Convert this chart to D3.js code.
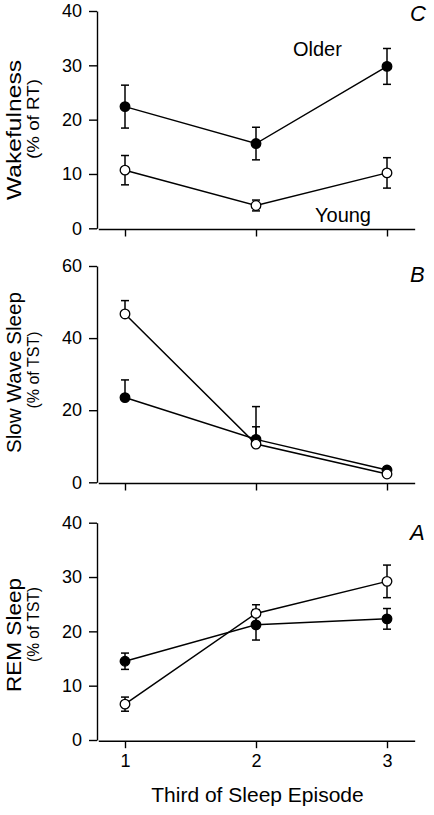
<!DOCTYPE html>
<html>
<head>
<meta charset="utf-8">
<script src="https://cdn.jsdelivr.net/npm/d3@7"></script>
<style>
html,body{margin:0;padding:0;background:#fff;}
svg{display:block;font-family:"Liberation Sans",Arial,Helvetica,sans-serif;}
</style>
</head>
<body>
<svg id="chart" width="434" height="815"></svg>
<script>
// ---- Data ----
const thirds = [1, 2, 3];
const xTickLabels = ["1", "2", "3"];

// Wakefulness (% of RT)
const wakeOlder = [22.4, 15.6, 29.8];
const wakeOlderSem = [3.95, 3.0, 3.3];
const wakeYoung = [10.7, 4.2, 10.2];
const wakeYoungSem = [2.7, 1.0, 2.8];
const wakeTicks = [0, 10, 20, 30, 40];

// Slow Wave Sleep (% of TST)
const swsOlder = [23.5, 11.9, 3.4];
const swsOlderSem = [4.9, 9.1, 0.8];
const swsYoung = [46.7, 10.6, 2.3];
const swsYoungSem = [3.7, 4.8, 0.7];
const swsTicks = [0, 20, 40, 60];

// REM Sleep (% of TST)
const remOlder = [14.5, 21.2, 22.3];
const remOlderSem = [1.5, 2.8, 1.9];
const remYoung = [6.6, 23.3, 29.2];
const remYoungSem = [1.3, 1.6, 3.0];
const remTicks = [0, 10, 20, 30, 40];

// ---- Layout ----
const svg = d3.select("#chart");
const x = d3.scaleLinear().domain([1, 3]).range([125, 387]);
const axisX = 97;

const panels = [
  {letter: "C", top: 11, bottom: 228.3, max: 40, ticks: wakeTicks,
   older: wakeOlder, olderSem: wakeOlderSem, young: wakeYoung, youngSem: wakeYoungSem, both: true,
   l1: "Wakefulness", l1c: 130, l1len: 140, l2: "(% of RT)", l2c: 119, l2len: 80, letterY: 21},
  {letter: "B", top: 266, bottom: 482.3, max: 60, ticks: swsTicks,
   older: swsOlder, olderSem: swsOlderSem, young: swsYoung, youngSem: swsYoungSem, both: false,
   l1: "Slow Wave Sleep", l1c: 372.5, l1len: 161, l2: "(% of TST)", l2c: 370, l2len: 77, letterY: 282},
  {letter: "A", top: 522.7, bottom: 740, max: 40, ticks: remTicks,
   older: remOlder, olderSem: remOlderSem, young: remYoung, youngSem: remYoungSem, both: true,
   l1: "REM Sleep", l1c: 635, l1len: 114, l2: "(% of TST)", l2c: 624.5, l2len: 75, letterY: 540, xLabels: true}
];

panels.forEach(p => {
  const y = d3.scaleLinear().domain([0, p.max]).range([p.bottom, p.top]);
  const g = svg.append("g");

  // Y axis
  const yAxis = d3.axisLeft(y).tickValues(p.ticks).tickSize(8).tickSizeOuter(0).tickPadding(7)
    .tickFormat(d3.format("d"));
  const ya = g.append("g").attr("transform", `translate(${axisX},0)`).call(yAxis);
  ya.select(".domain").attr("stroke", "#000").attr("stroke-width", 1.4);
  ya.selectAll(".tick line").attr("stroke", "#000").attr("stroke-width", 1.4);
  ya.selectAll(".tick text").attr("font-size", 18).attr("fill", "#000")
    .attr("font-family", "Liberation Sans, Arial, sans-serif");

  // X axis
  const xBase = p.bottom + 1.2;
  const xAxis = d3.axisBottom(x).tickValues(thirds).tickSize(7).tickSizeOuter(0).tickPadding(6)
    .tickFormat((d, i) => p.xLabels ? xTickLabels[i] : "");
  const xa = g.append("g").attr("transform", `translate(0,${xBase})`).call(xAxis);
  xa.select(".domain").remove();
  xa.append("line").attr("x1", x(0.8)).attr("x2", x(3.215)).attr("y1", 0).attr("y2", 0)
    .attr("stroke", "#000").attr("stroke-width", 1.4);
  xa.selectAll(".tick line").attr("stroke", "#000").attr("stroke-width", 1.4);
  xa.selectAll(".tick text").attr("font-size", 18).attr("fill", "#000")
    .attr("font-family", "Liberation Sans, Arial, sans-serif");

  // Y labels
  g.append("text").attr("transform", `translate(21,${p.l1c}) rotate(-90)`)
    .attr("text-anchor", "middle").attr("font-size", 20)
    .attr("textLength", p.l1len).attr("lengthAdjust", "spacingAndGlyphs").text(p.l1);
  g.append("text").attr("transform", `translate(38.5,${p.l2c}) rotate(-90)`)
    .attr("text-anchor", "middle").attr("font-size", 16.5)
    .attr("textLength", p.l2len).attr("lengthAdjust", "spacingAndGlyphs").text(p.l2);

  // Panel letter
  g.append("text").attr("x", 410).attr("y", p.letterY).attr("font-size", 22)
    .attr("font-style", "italic").text(p.letter);

  const series = [
    {vals: p.older, sem: p.olderSem, fill: "#000"},
    {vals: p.young, sem: p.youngSem, fill: "#fff"}
  ];

  // Error bars
  series.forEach(s => {
    s.vals.forEach((v, i) => {
      const cx = x(thirds[i]);
      const hi = y(v + s.sem[i]);
      const lo = p.both ? y(v - s.sem[i]) : y(v);
      const eb = g.append("g").attr("stroke", "#000").attr("stroke-width", 1.5);
      eb.append("line").attr("x1", cx).attr("x2", cx).attr("y1", hi).attr("y2", lo);
      eb.append("line").attr("x1", cx - 4).attr("x2", cx + 4).attr("y1", hi).attr("y2", hi);
      if (p.both) eb.append("line").attr("x1", cx - 4).attr("x2", cx + 4).attr("y1", lo).attr("y2", lo);
    });
  });

  // Lines
  const line = d3.line().x((d, i) => x(thirds[i])).y(d => y(d));
  series.forEach(s => {
    g.append("path").datum(s.vals).attr("d", line).attr("fill", "none")
      .attr("stroke", "#000").attr("stroke-width", 1.5);
  });

  // Markers
  series.forEach(s => {
    g.selectAll(null).data(s.vals).enter().append("circle")
      .attr("cx", (d, i) => x(thirds[i])).attr("cy", d => y(d)).attr("r", 4.8)
      .attr("fill", s.fill).attr("stroke", "#000").attr("stroke-width", 1.3);
  });

  if (p.letter === "C") {
    g.append("text").attr("x", 293).attr("y", 56).attr("font-size", 20).text("Older");
    g.append("text").attr("x", 315).attr("y", 221.5).attr("font-size", 20).text("Young");
  }
});

// X axis title
svg.append("text").attr("x", 257.5).attr("y", 801.5).attr("text-anchor", "middle")
  .attr("font-size", 21).text("Third of Sleep Episode");
</script>
</body>
</html>
